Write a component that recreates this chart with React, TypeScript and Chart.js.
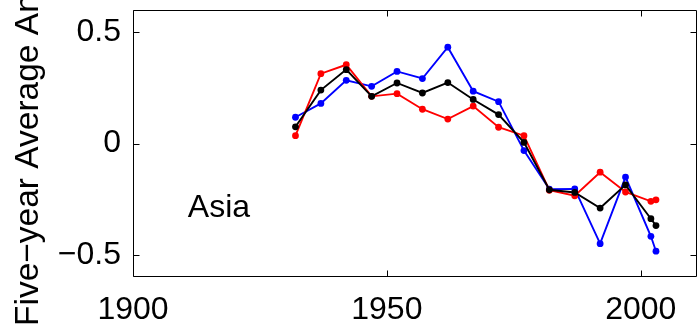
import React, { useEffect, useRef } from "react";
import { Chart, registerables } from "chart.js";

Chart.register(...registerables);

const years = [1932, 1937, 1942, 1947, 1952, 1957, 1962, 1967, 1972, 1977, 1982, 1987, 1992, 1997, 2002, 2003];
const blackSeries = [0.075, 0.24, 0.332, 0.212, 0.272, 0.227, 0.274, 0.198, 0.13, 0.005, -0.208, -0.22, -0.29, -0.186, -0.338, -0.369];
const redSeries = [0.035, 0.314, 0.354, 0.212, 0.224, 0.154, 0.11, 0.168, 0.073, 0.035, -0.21, -0.235, -0.129, -0.218, -0.26, -0.253];
const blueSeries = [0.118, 0.18, 0.284, 0.257, 0.324, 0.292, 0.433, 0.235, 0.188, -0.032, -0.205, -0.204, -0.45, -0.151, -0.417, -0.484];

const xTicks = [1900, 1950, 2000];
const yTicks = [-0.5, 0, 0.5];
const xRange = [1900, 2011];
const yRange = [-0.6, 0.6];

const yAxisTitle = "Five\u2212year Average Anomaly (\u00B0C)";
const regionLabel = "Asia";
const regionLabelAt = { x: 1910.8, y: -0.33 };

const FONT = "Liberation Sans, Arial, Helvetica, sans-serif";

const boxPlugin = {
  id: "matlabBox",
  afterDraw(chart: any) {
    const { ctx, chartArea, scales } = chart;
    const { left, right, top, bottom } = chartArea;
    ctx.save();
    ctx.strokeStyle = "#000";
    ctx.lineWidth = 1;
    const L = Math.round(left) + 0.5;
    const R = Math.round(right) - 0.5;
    const T = Math.round(top) + 0.5;
    const B = Math.round(bottom) - 0.5;
    ctx.beginPath();
    ctx.rect(L, T, R - L, B - T);
    ctx.stroke();
    const tl = 6;
    ctx.beginPath();
    for (const v of xTicks) {
      const x = Math.round(scales.x.getPixelForValue(v)) + 0.5;
      ctx.moveTo(x, B);
      ctx.lineTo(x, B - tl);
      ctx.moveTo(x, T);
      ctx.lineTo(x, T + tl);
    }
    for (const v of yTicks) {
      const y = Math.round(scales.y.getPixelForValue(v)) + 0.5;
      ctx.moveTo(L, y);
      ctx.lineTo(L + tl, y);
      ctx.moveTo(R, y);
      ctx.lineTo(R - tl, y);
    }
    ctx.stroke();

    // region annotation
    ctx.fillStyle = "#000";
    ctx.font = `32px ${FONT}`;
    ctx.textAlign = "left";
    ctx.textBaseline = "alphabetic";
    ctx.fillText(
      regionLabel,
      scales.x.getPixelForValue(regionLabelAt.x),
      scales.y.getPixelForValue(regionLabelAt.y)
    );

    // y axis title
    ctx.save();
    ctx.font = `33.5px ${FONT}`;
    ctx.translate(38, 326);
    ctx.rotate(-Math.PI / 2);
    ctx.textAlign = "left";
    ctx.textBaseline = "alphabetic";
    ctx.fillText(yAxisTitle, 0, 0);
    ctx.restore();
    ctx.restore();
  },
};

export default function App() {
  const ref = useRef<HTMLCanvasElement | null>(null);
  useEffect(() => {
    if (!ref.current) return;
    const mk = (label: string, data: number[], color: string) => ({
      label,
      data: years.map((x, i) => ({ x, y: data[i] })),
      borderColor: color,
      backgroundColor: color,
      borderWidth: 1.9,
      pointRadius: 3.4,
      pointBorderWidth: 0,
      pointHoverRadius: 3.4,
      tension: 0,
      fill: false,
    });
    const chart = new Chart(ref.current, {
      type: "line",
      data: {
        datasets: [
          mk("Mean", blackSeries, "#000000"),
          mk("Red", redSeries, "#ff0000"),
          mk("Blue", blueSeries, "#0000ff"),
        ],
      },
      options: {
        animation: false,
        responsive: false,
        events: [],
        layout: { padding: { top: 10, right: 2, left: 0, bottom: 0 } },
        plugins: { legend: { display: false }, tooltip: { enabled: false } },
        scales: {
          x: {
            type: "linear",
            min: xRange[0],
            max: xRange[1],
            afterBuildTicks: (s: any) => {
              s.ticks = xTicks.map((v) => ({ value: v }));
            },
            afterFit: (s: any) => {
              s.height = 51;
              s.paddingLeft = 0;
              s.paddingRight = 0;
              s.paddingTop = 0;
              s.paddingBottom = 0;
            },
            grid: { display: false, drawTicks: false },
            border: { display: false },
            ticks: {
              color: "#000",
              font: { family: FONT, size: 32 },
              padding: 14,
              maxRotation: 0,
              autoSkip: false,
              callback: (v: any) => String(v),
            },
          },
          y: {
            type: "linear",
            min: yRange[0],
            max: yRange[1],
            afterBuildTicks: (s: any) => {
              s.ticks = yTicks.map((v) => ({ value: v }));
            },
            afterFit: (s: any) => {
              s.width = 133;
              s.paddingTop = 0;
              s.paddingBottom = 0;
              s.paddingLeft = 0;
              s.paddingRight = 0;
            },
            grid: { display: false, drawTicks: false },
            border: { display: false },
            ticks: {
              color: "#000",
              font: { family: FONT, size: 32 },
              padding: 12,
              autoSkip: false,
              callback: (v: any) => {
                const n = Number(v);
                if (n === 0) return "0";
                return n < 0 ? "\u2212" + String(Math.abs(n)) : String(n);
              },
            },
          },
        },
      },
      plugins: [boxPlugin],
    });
    return () => chart.destroy();
  }, []);
  return (
    <div style={{ position: "fixed", left: 0, top: 0, width: 700, height: 328, background: "#fff" }}>
      <canvas ref={ref} width={700} height={328} style={{ width: 700, height: 328, display: "block" }} />
    </div>
  );
}
